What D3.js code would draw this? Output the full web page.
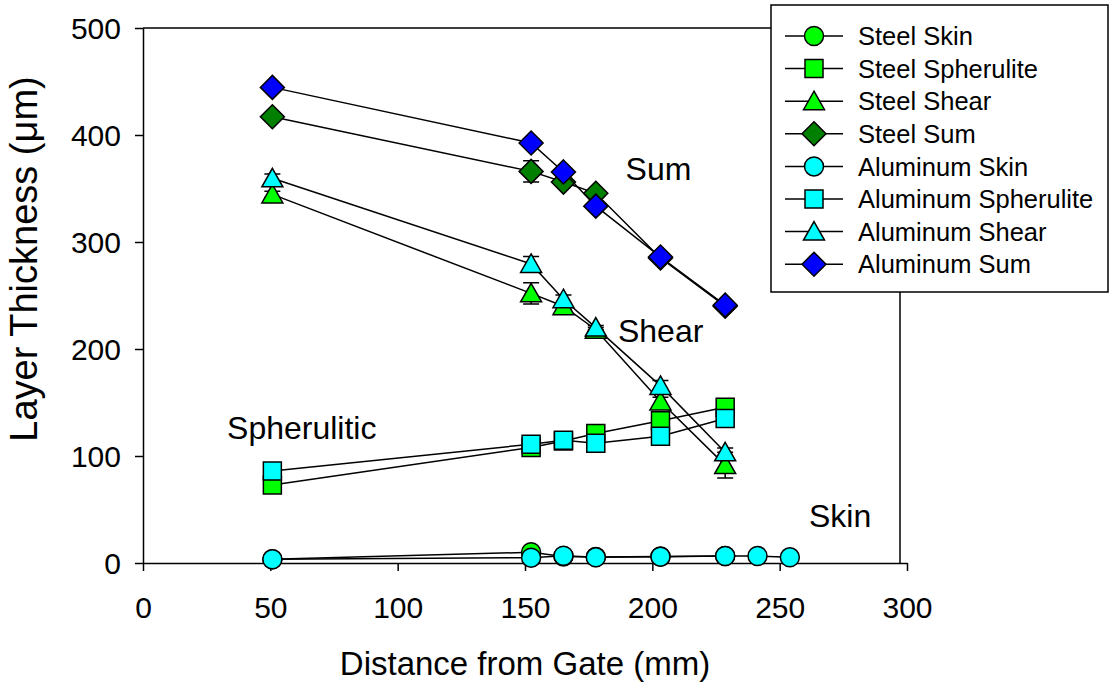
<!DOCTYPE html>
<html><head><meta charset="utf-8">
<script src="https://cdn.jsdelivr.net/npm/d3@7"></script>
<style>body{margin:0;background:#fff}svg{display:block}</style>
</head><body><svg id="c" width="1110" height="683"></svg>
<script>
const xTicks=[0,50,100,150,200,250,300];
const yTicks=[0,100,200,300,400,500];
const dist6=[50.8,152.4,165.1,177.8,203.2,228.6];
const dist8=[50.8,152.4,165.1,177.8,203.2,228.6,241.3,254];
const steelSkin=[3.5,10,6,5.5,6,6.5];
const steelSpher=[73,108,114,121,133,145.5];
const steelShear=[344.5,252,240,218,151,91.5];
const steelSum=[417,366,356,345.5,285,240];
const alSkin=[3.5,5,6.8,5.3,5.9,6.5,6.5,5.3];
const alSpher=[86,111,114.7,112,118.5,135];
const alShear=[359.5,279.5,246.5,220,165.5,103.5];
const alSum=[444.5,392.5,365.5,333.5,286,241];
const steelSumErr=[2,10,3,3,3,3];
const steelShearErr=[3,10,3,2,4,12];
const alShearErr=[4,7,4,2,5,4];
const alSumErr=[2,3,3,3,3,3];
const seriesNames=["Steel Skin","Steel Spherulite","Steel Shear","Steel Sum","Aluminum Skin","Aluminum Spherulite","Aluminum Shear","Aluminum Sum"];
const annotations=[{t:"Sum",x:189.5,y:358},{t:"Shear",x:186.5,y:206.5},{t:"Spherulitic",x:33,y:116},{t:"Skin",x:261.5,y:33.5}];

const series=[
 {name:seriesNames[0],x:dist6,v:steelSkin,e:null,shape:"circle",fill:"#00ff00"},
 {name:seriesNames[1],x:dist6,v:steelSpher,e:null,shape:"square",fill:"#00ff00"},
 {name:seriesNames[2],x:dist6,v:steelShear,e:steelShearErr,shape:"triangle",fill:"#00ff00"},
 {name:seriesNames[3],x:dist6,v:steelSum,e:steelSumErr,shape:"diamond",fill:"#007f00"},
 {name:seriesNames[4],x:dist8,v:alSkin,e:null,shape:"circle",fill:"#00ffff"},
 {name:seriesNames[5],x:dist6,v:alSpher,e:null,shape:"square",fill:"#00ffff"},
 {name:seriesNames[6],x:dist6,v:alShear,e:alShearErr,shape:"triangle",fill:"#00ffff"},
 {name:seriesNames[7],x:dist6,v:alSum,e:alSumErr,shape:"diamond",fill:"#0000ff"}
];

const FONT='"Liberation Sans", Arial, sans-serif';
const svg=d3.select("#c");
const x=d3.scaleLinear().domain([0,300]).range([143,907]);
const y=d3.scaleLinear().domain([0,500]).range([563,28]);

function shapePath(s){
  if(s==="circle") return "M9.5,0A9.5,9.5 0 1,1 -9.5,0A9.5,9.5 0 1,1 9.5,0Z";
  if(s==="square") return "M-9,-9H9V9H-9Z";
  if(s==="triangle") return "M0,-10L10.5,8.5H-10.5Z";
  return "M0,-12L12,0L0,12L-12,0Z";
}

// frame (top and right)
svg.append("path").attr("d",`M${x(0)},${y(500)}H900V${y(0)}`).attr("fill","none").attr("stroke","#000").attr("stroke-width",1.5);

// axes
const xAxis=d3.axisBottom(x).tickValues(xTicks).tickSize(8).tickSizeOuter(0);
const yAxis=d3.axisLeft(y).tickValues(yTicks).tickSize(8).tickSizeOuter(0);
const gx=svg.append("g").attr("transform",`translate(0,${y(0)})`).call(xAxis);
const gy=svg.append("g").attr("transform",`translate(${x(0)},0)`).call(yAxis);
[gx,gy].forEach(g=>{
  g.select(".domain").attr("stroke","#000").attr("stroke-width",1.5);
  g.selectAll(".tick line").attr("stroke","#000").attr("stroke-width",1.5);
  g.selectAll(".tick text").attr("font-family",FONT).attr("font-size",30).attr("fill","#000");
});
gx.selectAll(".tick text").attr("y",0).attr("dy",0).attr("transform","translate(0,55)");
gy.selectAll(".tick text").attr("x",-22).attr("dy","0.36em");

// axis titles
svg.append("text").attr("x",525).attr("y",675).attr("text-anchor","middle")
  .attr("font-family",FONT).attr("font-size",33).text("Distance from Gate (mm)");
svg.append("text").attr("transform","translate(37,259) rotate(-90)").attr("text-anchor","middle")
  .attr("font-family",FONT).attr("font-size",38).text("Layer Thickness (\u03bcm)");

// series
const line=d3.line();
series.forEach(s=>{
  const pts=s.v.map((v,i)=>[x(s.x[i]),y(v)]);
  const g=svg.append("g");
  g.append("path").attr("d",line(pts)).attr("fill","none").attr("stroke","#000").attr("stroke-width",1.5);
  if(s.e){
    s.v.forEach((v,i)=>{
      const e=s.e[i]; if(!e) return;
      const cx=x(s.x[i]);
      g.append("path").attr("d",`M${cx},${y(v-e)}V${y(v+e)}M${cx-8},${y(v-e)}H${cx+8}M${cx-8},${y(v+e)}H${cx+8}`)
        .attr("stroke","#000").attr("stroke-width",1.5).attr("fill","none");
    });
  }
  g.selectAll("path.m").data(pts).join("path").attr("class","m")
    .attr("transform",d=>`translate(${d[0]},${d[1]})`).attr("d",shapePath(s.shape))
    .attr("fill",s.fill).attr("stroke","#000").attr("stroke-width",1.5);
});

// annotations
annotations.forEach(a=>{
  svg.append("text").attr("x",x(a.x)).attr("y",y(a.y)).attr("font-family",FONT).attr("font-size",32).text(a.t);
});

// legend
const lg=svg.append("g");
lg.append("rect").attr("x",771).attr("y",5).attr("width",337).attr("height",287).attr("fill","#fff").attr("stroke","#000").attr("stroke-width",1.5);
series.forEach((s,i)=>{
  const cy=36+i*32.6;
  lg.append("line").attr("x1",785).attr("x2",843).attr("y1",cy).attr("y2",cy).attr("stroke","#000").attr("stroke-width",1.5);
  lg.append("path").attr("transform",`translate(814,${cy})`).attr("d",shapePath(s.shape)).attr("fill",s.fill).attr("stroke","#000").attr("stroke-width",1.5);
  lg.append("text").attr("x",858).attr("y",cy).attr("dy","0.36em").attr("font-family",FONT).attr("font-size",25.5).text(s.name);
});
</script></body></html>
